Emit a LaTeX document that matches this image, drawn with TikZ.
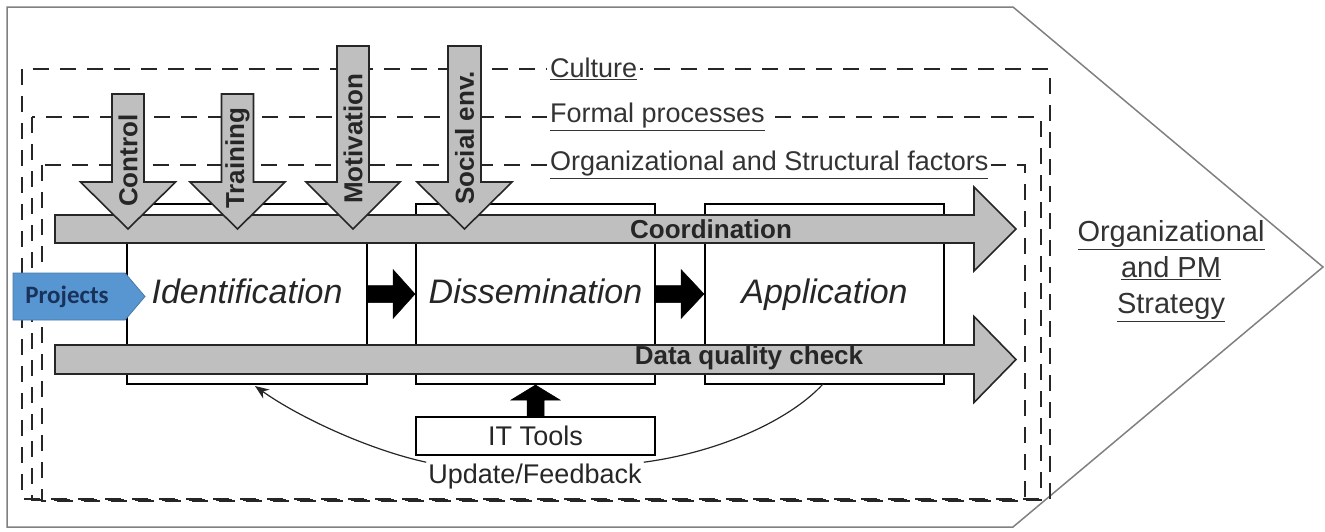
\documentclass[tikz,border=0pt]{standalone}
\usepackage{fontspec}
\setmainfont{Liberation Sans}
\newfontfamily\calibrifont{Carlito}
\usetikzlibrary{arrows.meta,calc}
\definecolor{arrowgray}{RGB}{191,191,191}
\definecolor{projblue}{RGB}{88,150,210}
\definecolor{projtext}{RGB}{25,50,90}
\definecolor{framegray}{RGB}{128,128,128}
% rightward block arrow: start, tip, shaft half, head half, head length, style
\newcommand{\rblk}[6]{\path[#6] ($(#1)+(0,-#3)$) -- ($(#2)+(-#5,-#3)$) -- ($(#2)+(-#5,-#4)$) -- (#2) -- ($(#2)+(-#5,#4)$) -- ($(#2)+(-#5,#3)$) -- ($(#1)+(0,#3)$) -- cycle;}
% downward block arrow (page down)
\newcommand{\dblk}[6]{\path[#6] ($(#1)+(-#3,0)$) -- ($(#2)+(-#3,-#5)$) -- ($(#2)+(-#4,-#5)$) -- (#2) -- ($(#2)+(#4,-#5)$) -- ($(#2)+(#3,-#5)$) -- ($(#1)+(#3,0)$) -- cycle;}
% upward block arrow (page up)
\newcommand{\ublk}[6]{\path[#6] ($(#1)+(-#3,0)$) -- ($(#2)+(-#3,#5)$) -- ($(#2)+(-#4,#5)$) -- (#2) -- ($(#2)+(#4,#5)$) -- ($(#2)+(#3,#5)$) -- ($(#1)+(#3,0)$) -- cycle;}
\begin{document}
\begin{tikzpicture}[x=1pt,y=-1pt,
  garrow/.style={fill=arrowgray, draw=black!85, line width=1.6pt, line join=miter},
  barrow/.style={fill=black, draw=black, line width=0.5pt, line join=miter},
  stagebox/.style={draw=black, line width=2pt, fill=white, minimum width=240pt, minimum height=180pt, inner sep=0pt,
     text height=25pt, text depth=7pt,
     font=\fontsize{34}{40}\selectfont\itshape, text=black!85},
  dashbox/.style={dash pattern=on 16pt off 11pt, draw=black!85},
  layerlabel/.style={fill=white, inner sep=3pt, anchor=west, font=\fontsize{27}{32}\selectfont, text=black!80},
  vlabel/.style={rotate=90, anchor=west, inner sep=0pt, font=\fontsize{26}{30}\selectfont\bfseries, text=black!85},
  hlabel/.style={inner sep=0pt, font=\fontsize{26}{30}\selectfont\bfseries, text=black!85},
  plain/.style={font=\fontsize{27}{32}\selectfont, text=black!85}
]
\useasboundingbox (0,0) rectangle (1325,531);
% outer strategy arrow
\path[draw=framegray, line width=1.5pt] (7,7) -- (1013,7) -- (1323,267) -- (1013,527) -- (7,527) -- cycle;
% dashed layers
\draw[dashbox, line width=2.4pt] (22,69) rectangle (1050,499);
\draw[dashbox, line width=1.9pt] (32,117) rectangle (1041,500);
\draw[dashbox, line width=1.5pt] (42,165) rectangle (1025,501);
\node[layerlabel] (cult) at (547,69) {\underline{Culture}};
\node[layerlabel] (formal) at (547,117) {\underline{Formal processes}};
\node[layerlabel] (orgf) at (547,165) {\underline{Organizational and Structural factors}};
% stage boxes
\node[stagebox] (id) at (247,294) {Identification};
\node[stagebox, minimum width=239pt] (dis) at (535.5,294) {Dissemination};
\node[stagebox, minimum width=239pt] (app) at (824.5,294) {Application};
% horizontal gray arrows
\coordinate (coS) at (55,229);
\coordinate (coT) at (1016,229);
\coordinate (dqS) at (55,359.5);
\coordinate (dqT) at (1016,359.5);
\rblk{coS}{coT}{14}{42}{42}{garrow}
\rblk{dqS}{dqT}{14.5}{43}{42}{garrow}
\node[hlabel] (coord) at (711,229) {Coordination};
\node[hlabel] (dq) at (749,358) {Data quality check};
% vertical gray arrows
\coordinate (ctS) at (128,94);  \coordinate (ctT) at (128,229);
\coordinate (trS) at (237.5,94); \coordinate (trT) at (237.5,229);
\coordinate (moS) at (353,46);  \coordinate (moT) at (353,229);
\coordinate (soS) at (464.5,46); \coordinate (soT) at (464.5,229);
\dblk{ctS}{ctT}{16}{47.5}{47}{garrow}
\dblk{trS}{trT}{16}{47.5}{47}{garrow}
\dblk{moS}{moT}{16}{47}{47}{garrow}
\dblk{soS}{soT}{16.5}{47.5}{47}{garrow}
\node[vlabel] (ctl) at (128,207) {Control};
\node[vlabel] (trl) at (237.5,209) {Training};
\node[vlabel] (mol) at (353,204) {Motivation};
\node[vlabel] (sol) at (464.5,205) {Social env.};
% black arrows between stages
\rblk{id.east}{dis.west}{8.5}{24.5}{22}{barrow}
\rblk{dis.east}{app.west}{8.5}{24.5}{23}{barrow}
% IT tools
\node[draw=black, line width=2pt, fill=white, minimum width=239pt, minimum height=38pt, inner sep=0pt, plain] (it) at (535.5,436) {IT Tools};
\ublk{it.north}{dis.south}{8.5}{24.5}{15}{barrow}
% update / feedback
\node[plain, inner sep=2pt] (uf) at (535,477) {Update/Feedback};
\coordinate (fbL) at (255,386);
\coordinate (fbR) at (823,384);
\draw[line width=1.2pt, black!85] (fbR) .. controls (790,420) and (720,452) .. (uf.north east);
\draw[line width=1.2pt, black!85, -{Stealth[length=14pt,width=11pt]}] (uf.north west) .. controls (370,450) and (300,418) .. (fbL);
% projects
\path[fill=projblue, draw=projblue!80!black, line width=0.8pt] (13,273) -- (125,273) -- (145,296.5) -- (125,320) -- (13,320) -- cycle;
\node[inner sep=0pt, text=projtext, font=\calibrifont\bfseries\fontsize{25}{30}\selectfont] (proj) at (67,297) {Projects};
% strategy
\node[align=center, font=\fontsize{29}{36}\selectfont, text=black!80] (strat) at (1171,271) {\underline{Organizational}\\\underline{and PM}\\\underline{Strategy}};
\end{tikzpicture}
\end{document}
